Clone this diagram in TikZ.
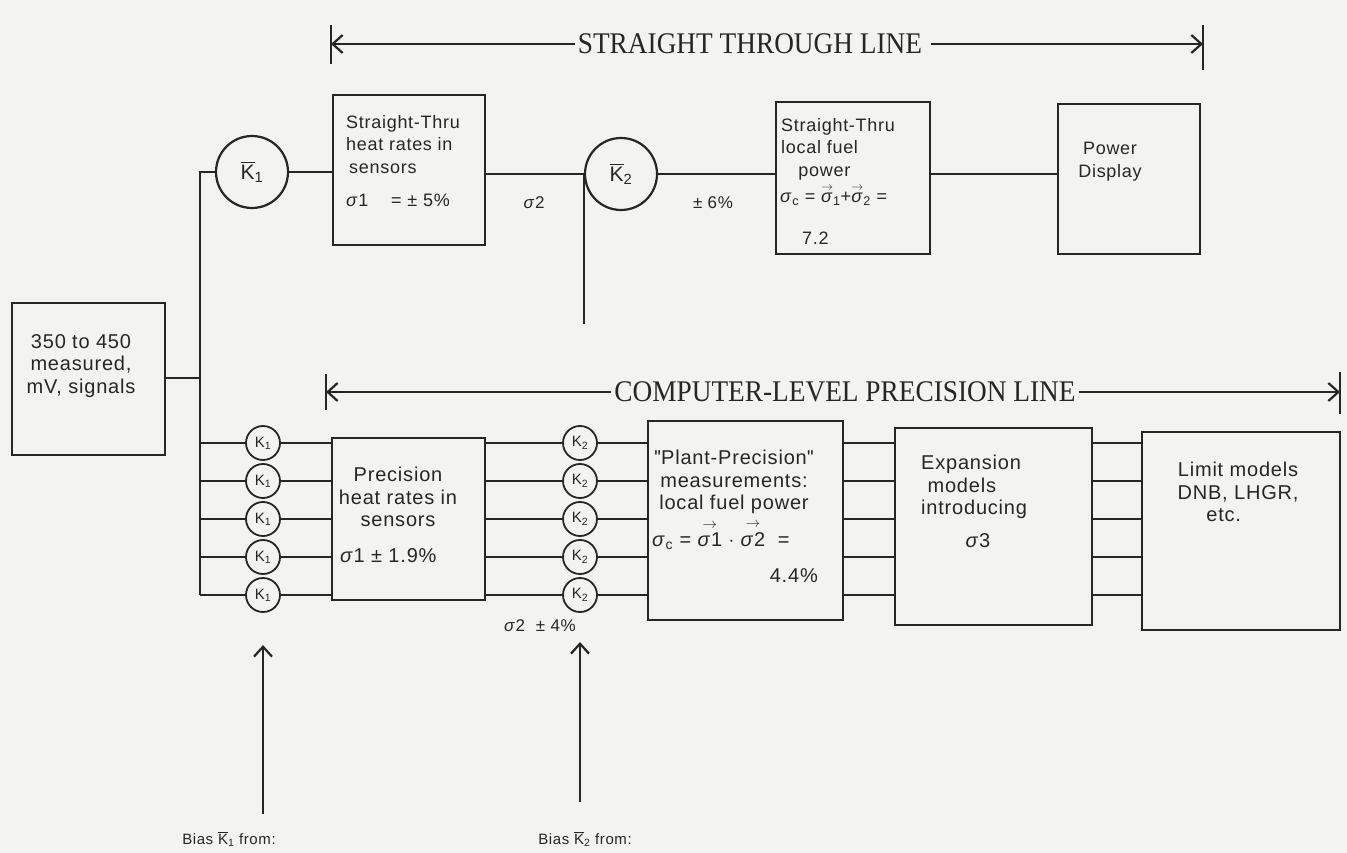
\documentclass[tikz,border=0pt]{standalone}
\usepackage{amsmath}
\usepackage{fontspec}
\setmainfont{Liberation Sans}
\newfontfamily\banfont{Liberation Serif}
\usetikzlibrary{arrows.meta}
\definecolor{ink}{HTML}{262626}
\definecolor{bg}{HTML}{F3F3F1}
\newcommand{\fs}[2]{\fontsize{#1}{#2}\selectfont\addfontfeature{LetterSpace=4}}
\newcommand{\va}[1]{\ensuremath{\overset{\rightarrow}{\text{#1}}}}
\newcommand{\dq}{\textquotesingle\kern-0.5pt\textquotesingle}
\tikzset{
 ln/.style={line width=2.2pt, draw=ink},
 blk/.style={draw=ink, line width=2.4pt, inner sep=0pt},
 txt/.style={inner sep=0pt, text=ink, font=\fs{18}{22.5}},
 big/.style={inner sep=0pt, text=ink, font=\fs{20}{22.5}},
 lbl/.style={inner sep=0pt, text=ink, font=\fs{17}{17}},
 ban/.style={inner sep=3pt, text=ink, font=\banfont\fontsize{30}{30}\selectfont},
 bigc/.style={circle, draw=ink, line width=2.2pt, minimum size=72pt, inner sep=0pt, text=ink, font=\fontsize{21}{21}\selectfont},
 smc/.style={circle, draw=ink, line width=1.8pt, minimum size=34pt, inner sep=0pt, text=ink, font=\fontsize{15}{15}\selectfont},
 arr/.style={ln, -{Straight Barb[length=10pt,width=18pt,line width=2.2pt]}}
}
\begin{document}
\begin{tikzpicture}[x=1pt,y=-1pt]
\fill[bg] (0,0) rectangle (1347,853);
\useasboundingbox (0,0) rectangle (1347,853);

% ---------- top banner
\coordinate (tbL) at (331,44);
\coordinate (tbR) at (1203,44);
\node[ban] (stl) at (750,44) {\scalebox{0.91}[1]{STRAIGHT THROUGH LINE}};
\draw[ln] ([yshift=19pt]tbL) -- ([yshift=-20pt]tbL);
\draw[ln] ([yshift=19pt]tbR) -- ([yshift=-26pt]tbR);
\draw[arr] (stl.west) -- (tbL);
\draw[arr] ([xshift=6pt]stl.east) -- (tbR);

% ---------- straight-through line
\node[blk, minimum width=153pt, minimum height=152pt] (in) at (88.5,379) {};
\node[big, anchor=north, align=center] at (81,334) {350 to 450\\measured,\\mV, signals};

\coordinate (vt) at (200,172);
\coordinate (vb) at (200,595);
\node[bigc] (k1) at (252,172) {$\overline{\text{K}}_{\text{1}}$};
\draw[ln] (k1.west) -- (vt) -- (vb);
\draw[ln] (in.east |- 0,378) -- (vt |- 0,378);

\node[blk, minimum width=152pt, minimum height=150pt] (st1) at (409,170) {};
\node[txt, anchor=north west, align=left] at (346,115) {Straight-Thru\\heat rates in\\\,sensors};
\node[txt, anchor=base west] at (346,207) {\textit{σ}1 \ \ \ = ± 5\%};
\draw[ln] (k1.east) -- (k1 -| st1.west);

\node[bigc] (k2) at (621,174) {$\overline{\text{K}}_{\text{2}}$};
\coordinate (k2end) at (585,324);
\draw[ln] (st1.east |- k2) -- (k2.west);
\draw[ln] (k2.west) -- (k2.west |- k2end);
\node[lbl] at (534,203) {\textit{σ}2};
\node[lbl] at (713,203) {± 6\%};

\node[blk, minimum width=154pt, minimum height=152pt] (st2) at (853,178) {};
\node[txt, anchor=north west, align=left] at (781,118) {Straight-Thru\\local fuel\\\ \ \ power};
\node[txt, anchor=base west] at (780,203) {\textit{σ}\textsubscript{c} = \va{\textit{σ}}\textsubscript{1}+\va{\textit{σ}}\textsubscript{2} =};
\node[txt, anchor=base west] at (802,245) {7.2};
\draw[ln] (k2.east) -- (k2 -| st2.west);

\node[blk, minimum width=142pt, minimum height=150pt] (pd) at (1129,179) {};
\node[txt, anchor=north, align=center] at (1110,142) {Power\\Display};
\draw[ln] (st2.east |- k2) -- (k2 -| pd.west);

% ---------- middle banner
\coordinate (mbL) at (326,392);
\coordinate (mbR) at (1340,392);
\node[ban] (cpl) at (845,392) {\scalebox{0.91}[1]{COMPUTER-LEVEL PRECISION LINE}};
\draw[ln] ([yshift=18pt]mbL) -- ([yshift=-18pt]mbL);
\draw[ln] ([yshift=20pt]mbR) -- ([yshift=-22pt]mbR);
\draw[arr] (cpl.west) -- (mbL);
\draw[arr] (cpl.east) -- (mbR);

% ---------- precision line boxes
\node[blk, minimum width=153pt, minimum height=162pt] (prec) at (408.5,519) {};
\node[big, anchor=north, align=center] at (398,467) {Precision\\heat rates in\\sensors};
\node[big, anchor=base west] at (340,562) {\textit{σ}1 ± 1.9\%};

\node[blk, minimum width=195pt, minimum height=199pt] (plant) at (745.5,520.5) {};
\node[big, anchor=north, align=center] at (734,450) {\dq Plant-Precision\dq\\measurements:\\local fuel power};
\node[big, anchor=base west] at (652,546) {\textit{σ}\textsubscript{c} = \va{\textit{σ}1} $\cdot$ \va{\textit{σ}2} \ =};
\node[big, anchor=base east] at (818,582) {4.4\%};

\node[blk, minimum width=197pt, minimum height=197pt] (exp) at (993.5,526.5) {};
\node[big, anchor=north west, align=left] at (921,455) {Expansion\\\ models\\introducing};
\node[big, anchor=base] at (978,547) {\textit{σ}3};

\node[blk, minimum width=198pt, minimum height=198pt] (lim) at (1241,531) {};
\node[big, anchor=north, align=center] at (1238,462) {Limit models\\DNB, LHGR,\\\,etc.\hspace*{1.6em}};

% ---------- bundles of five signals
\foreach \i/\yy in {1/443,2/481,3/519,4/557,5/595}{
  \node[smc] (ka\i) at (263,\yy) {K$_{\text{1}}$};
  \node[smc] (kb\i) at (580,\yy) {K$_{\text{2}}$};
  \draw[ln] (vt |- ka\i) -- (ka\i.west);
  \draw[ln] (ka\i.east) -- (ka\i -| prec.west);
  \draw[ln] (prec.east |- kb\i) -- (kb\i.west);
  \draw[ln] (kb\i.east) -- (kb\i -| plant.west);
  \draw[ln] (plant.east |- kb\i) -- (kb\i -| exp.west);
  \draw[ln] (exp.east |- kb\i) -- (kb\i -| lim.west);
}
\node[lbl] at (540,626) {\textit{σ}2 \ ± 4\%};

% ---------- bias inputs
\coordinate (b1s) at (263,814);
\coordinate (b2s) at (580,802);
\coordinate (b1e) at (263,645);
\coordinate (b2e) at (580,642);
\draw[arr] (b1s) -- (b1e);
\draw[arr] (b2s) -- (b2e);
\node[lbl, font=\fs{15}{15}] (bias1) at (229,839) {Bias $\overline{\text{K}}_{\text{1}}$ from:};
\node[lbl, font=\fs{15}{15}] (bias2) at (585,839) {Bias $\overline{\text{K}}_{\text{2}}$ from:};
\end{tikzpicture}
\end{document}
